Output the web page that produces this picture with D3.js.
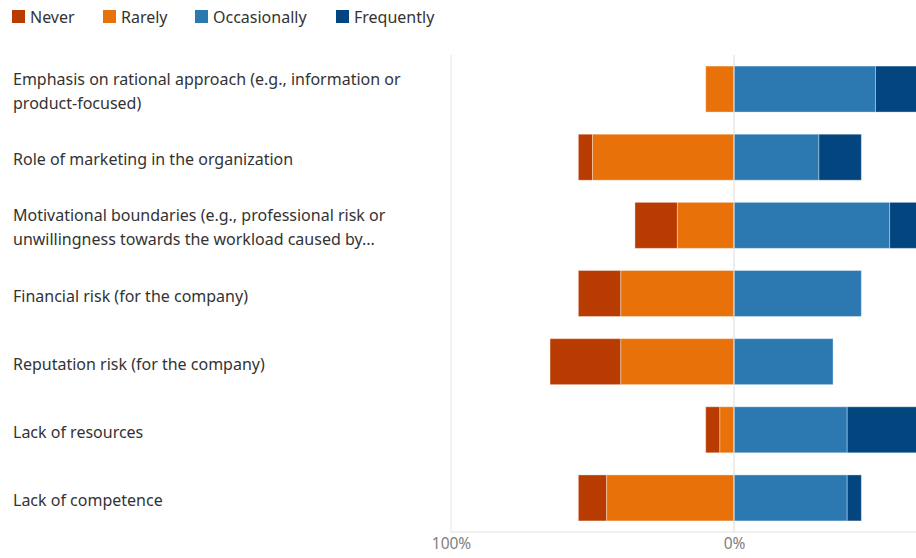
<!DOCTYPE html>
<html>
<head>
<meta charset="utf-8">
<script src="https://cdn.jsdelivr.net/npm/d3@7/dist/d3.min.js"></script>
<style>
  body { margin: 0; background: #fff; overflow: hidden; }
  svg { display: block; font-family: "Noto Sans", "Open Sans", sans-serif; }
</style>
</head>
<body>
<div id="container"></div>
<script>
// categories, top to bottom
const categories = [
  ['Emphasis on rational approach (e.g., information or', 'product-focused)'],
  ['Role of marketing in the organization'],
  ['Motivational boundaries (e.g., professional risk or', 'unwillingness towards the workload caused by...'],
  ['Financial risk (for the company)'],
  ['Reputation risk (for the company)'],
  ['Lack of resources'],
  ['Lack of competence']
];
const seriesNames = ['Never', 'Rarely', 'Occasionally', 'Frequently'];
// percentages per category
const never        = [0, 5, 15, 15, 25, 5, 10];
const rarely       = [10, 50, 20, 40, 40, 5, 45];
const occasionally = [50, 30, 55, 45, 35, 40, 40];
const frequently   = [40, 15, 10, 0, 0, 50, 5];
const tickValues = [-100, 0];
const colors = ['#b83c02', '#e8710a', '#2c79b2', '#03467f'];

const width = 916, height = 558;
const margin = { top: 55, right: -101, bottom: 26, left: 451 };

const svg = d3.select('#container').append('svg')
  .attr('width', width).attr('height', height);

const x = d3.scaleLinear().domain([-100, 100])
  .range([margin.left, width - margin.right]);
const y = d3.scaleBand().domain(d3.range(categories.length))
  .range([margin.top, height - margin.bottom])
  .paddingInner(0.325).paddingOuter(0.1625);

// frame lines
svg.append('line')
  .attr('x1', x(-100)).attr('x2', x(-100))
  .attr('y1', margin.top).attr('y2', height - margin.bottom)
  .attr('stroke', '#e3e3e3');
svg.append('line')
  .attr('x1', x(-100)).attr('x2', width)
  .attr('y1', height - margin.bottom).attr('y2', height - margin.bottom)
  .attr('stroke', '#e3e3e3');

// build segments: negatives stacked leftwards from 0
const segs = [];
categories.forEach((c, i) => {
  const r = rarely[i], n = never[i];
  segs.push({ i, s: 0, x0: -n - r, x1: -r });
  segs.push({ i, s: 1, x0: -r, x1: 0 });
  const o = occasionally[i], f = frequently[i];
  segs.push({ i, s: 2, x0: 0, x1: o });
  segs.push({ i, s: 3, x0: o, x1: o + f });
});

svg.append('g').selectAll('rect')
  .data(segs.filter(d => d.x1 > d.x0))
  .join('rect')
  .attr('x', d => x(d.x0))
  .attr('width', d => x(d.x1) - x(d.x0))
  .attr('y', d => y(d.i))
  .attr('height', y.bandwidth())
  .attr('fill', d => colors[d.s])
  .attr('stroke', 'rgba(255,255,255,0.35)')
  .attr('stroke-width', 1);

// zero line
svg.append('line')
  .attr('x1', x(0)).attr('x2', x(0))
  .attr('y1', margin.top).attr('y2', height - margin.bottom)
  .attr('stroke', '#dcdcdc');

// x axis labels
const xAxis = d3.axisBottom(x).tickValues(tickValues)
  .tickFormat(d => Math.abs(d) + '%').tickSize(0).tickPadding(6);
const ax = svg.append('g')
  .attr('transform', `translate(0,${height - margin.bottom})`)
  .call(xAxis);
ax.select('.domain').remove();
ax.selectAll('text').attr('fill', '#808080').style('font-size', '15.5px')
  .style('font-family', '"Noto Sans", "Open Sans", sans-serif');

// category labels
const lab = svg.append('g').selectAll('text')
  .data(categories)
  .join('text')
  .attr('x', 13)
  .attr('fill', '#333')
  .style('font-size', '16px');
lab.each(function(lines, i) {
  const cy = y(i) + y.bandwidth() / 2;
  const lh = 24;
  lines.forEach((t, k) => {
    d3.select(this).append('tspan')
      .attr('x', 13)
      .attr('y', cy + (k - (lines.length - 1) / 2) * lh + 8)
      .text(t);
  });
});

// legend
const legX = [12, 103, 195, 336];
const leg = svg.append('g').selectAll('g')
  .data(seriesNames)
  .join('g')
  .attr('transform', (d, i) => `translate(${legX[i]},10)`);
leg.append('rect').attr('width', 13).attr('height', 13)
  .attr('fill', (d, i) => colors[i]);
leg.append('text').attr('x', 18).attr('y', 12.5)
  .attr('fill', '#333').style('font-size', '16px')
  .text(d => d);
</script>
</body>
</html>
